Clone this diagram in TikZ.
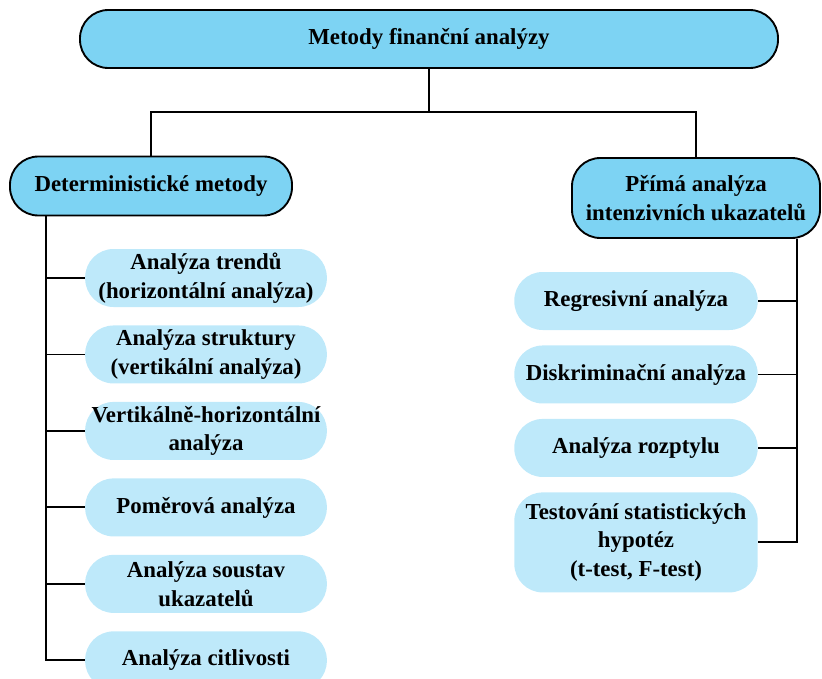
\documentclass[tikz,border=0pt]{standalone}
\usepackage{fontspec}
\setmainfont{Liberation Serif}
\usetikzlibrary{positioning}

\definecolor{headblue}{RGB}{125,211,243}
\definecolor{methblue}{RGB}{190,233,250}

\tikzset{
  boxfont/.style={font=\fontsize{19.5}{24.5}\selectfont\bfseries},
  head/.style={draw=black, line width=1.6pt, fill=headblue, rounded corners=0.85cm,
    align=center, inner sep=1pt, boxfont},
  method/.style={fill=methblue, rounded corners=0.85cm, align=center, inner sep=1pt,
    minimum width=7.25cm, minimum height=1.74cm, boxfont},
  link/.style={line width=1.6pt}
}

\begin{document}
\begin{tikzpicture}[x=0.03cm, y=-0.03cm]
\useasboundingbox (0,0) rectangle (822,678);

\node[head, minimum width=20.94cm, minimum height=1.74cm] (m0) at (429,39) {Metody finanční analýzy};
\node[head, minimum width=8.46cm, minimum height=1.77cm] (d0) at (151,186) {Deterministické metody};
\node[head, minimum width=7.44cm, minimum height=2.4cm] (p0) at (696,198) {Přímá analýza\\intenzivních ukazatelů};

% deterministic methods
\node[method] (d1) at (206,278) {Analýza trendů\\(horizontální analýza)};
\node[method] (d2) [below=0.54cm of d1] {Analýza struktury\\(vertikální analýza)};
\node[method] (d3) [below=0.54cm of d2] {Vertikálně-horizontální\\analýza};
\node[method] (d4) [below=0.54cm of d3] {Poměrová analýza};
\node[method] (d5) [below=0.54cm of d4] {Analýza soustav\\ukazatelů};
\node[method] (d6) [below=0.54cm of d5] {Analýza citlivosti};

% direct analysis
\node[method, minimum width=7.3cm] (p1) at (636,301) {Regresivní analýza};
\node[method, minimum width=7.3cm] (p2) [below=0.45cm of p1] {Diskriminační analýza};
\node[method, minimum width=7.3cm] (p3) [below=0.45cm of p2] {Analýza rozptylu};
\node[method, minimum width=7.3cm, minimum height=3cm] (p4) [below=0.45cm of p3] {Testování statistických\\hypotéz\\(t-test, F-test)};

\coordinate (split) at (429,112);
\draw[link] (m0.south) -- (split);
\draw[link] (d0.north) |- (split) -| (p0.north);

\coordinate (dl) at ([xshift=1.11cm]d0.south west);
\coordinate (pr) at ([xshift=-0.72cm]p0.south east);
\foreach \n in {1,...,6} \draw[link] (dl) |- (d\n.west);
\foreach \n in {1,...,4} \draw[link] (pr) |- (p\n.east);
\end{tikzpicture}
\end{document}
